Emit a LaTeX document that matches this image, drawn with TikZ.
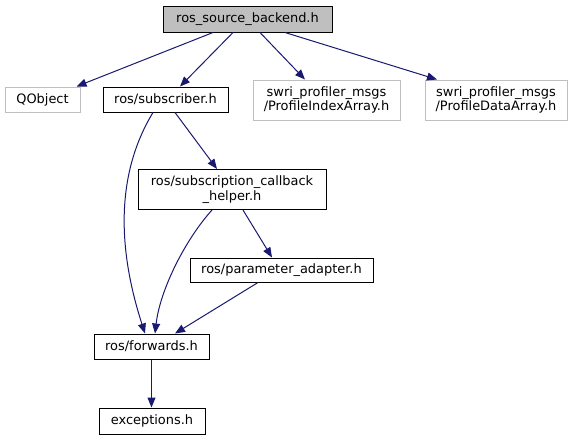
\documentclass[tikz,border=0pt]{standalone}
\usepackage{fontspec}
\setmainfont{DejaVu Sans}
\usetikzlibrary{arrows.meta,calc}
\definecolor{edgeblue}{HTML}{191970}
\definecolor{grayfill}{HTML}{BFBFBF}
\definecolor{grayline}{HTML}{BFBFBF}
\tikzset{
  filebox/.style={draw=black, line width=0.75pt, fill=white, rectangle, inner sep=0pt,
    align=center, font=\fontsize{9.7pt}{11pt}\selectfont},
  mainbox/.style={filebox, fill=grayfill},
  extbox/.style={filebox, draw=grayline},
  dep/.style={draw=edgeblue, line width=0.75pt, -{Triangle[length=7.5pt,width=6pt]}, fill=none},
}
\begin{document}
\begin{tikzpicture}[x=0.75pt,y=-0.75pt]
\useasboundingbox (0,0) rectangle (575,440);
\node[mainbox, minimum width=169*0.75pt, minimum height=26*0.75pt] (main) at (247.5,19) {ros\_source\_backend.h};
\node[extbox, minimum width=75*0.75pt, minimum height=25*0.75pt] (qobj) at (42.5,99.5) {QObject};
\node[filebox, minimum width=125*0.75pt, minimum height=25*0.75pt] (sub) at (165.5,99.5) {ros/subscriber.h};
\node[extbox, minimum width=147*0.75pt, minimum height=40*0.75pt] (idx) at (326.5,100) {swri\_profiler\_msgs\\/ProfileIndexArray.h};
\node[extbox, minimum width=142*0.75pt, minimum height=40*0.75pt] (data) at (496,100) {swri\_profiler\_msgs\\/ProfileDataArray.h};
\node[filebox, minimum width=188*0.75pt, minimum height=40*0.75pt] (cb) at (232,189.5) {ros/subscription\_callback\\\_helper.h};
\node[filebox, minimum width=183*0.75pt, minimum height=24*0.75pt] (pa) at (281.5,270) {ros/parameter\_adapter.h};
\node[filebox, minimum width=115*0.75pt, minimum height=25*0.75pt] (fw) at (151.5,346.5) {ros/forwards.h};
\node[filebox, minimum width=106*0.75pt, minimum height=26*0.75pt] (exc) at (152,421) {exceptions.h};

\draw[dep] ($(main.south)+(-34.5,0)$) -- ($(qobj.north east)+(-4,0)$);
\draw[dep] ($(main.south)+(-14.5,0)$) -- ($(sub.north)+(14.5,0)$);
\draw[dep] ($(main.south)+(12.5,0)$) -- ($(idx.north)+(-21.5,0)$);
\draw[dep] ($(main.south)+(37.5,0)$) -- ($(data.north)+(-59,0)$);
\draw[dep] ($(sub.south)+(9.5,0)$) -- ($(cb.north)+(-15,0)$);
\draw[dep] ($(sub.south)+(-12.5,0)$) .. controls (115,175) and (118,250) .. ($(fw.north)+(-6.5,0)$);
\draw[dep] ($(cb.south)+(-20,0)$) .. controls (185,240) and (160,290) .. ($(fw.north)+(3.5,0)$);
\draw[dep] ($(cb.south)+(11,0)$) -- ($(pa.north)+(-9.5,0)$);
\draw[dep] ($(pa.south)+(-23.5,0)$) -- ($(fw.north)+(23.5,0)$);
\draw[dep] (fw.south) -- (fw.south |- exc.north);
\end{tikzpicture}
\end{document}
